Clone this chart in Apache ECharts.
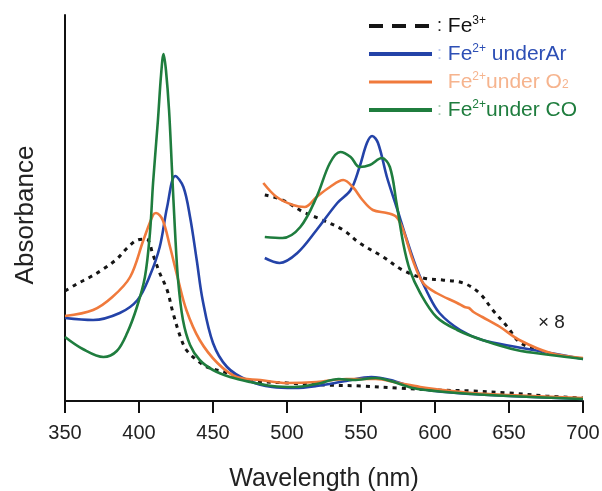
<!DOCTYPE html>
<html>
<head>
<meta charset="utf-8">
<script src="https://cdn.jsdelivr.net/npm/echarts@6/dist/echarts.min.js"></script>
<style>
  html, body { margin: 0; padding: 0; background: #fff; }
  #chart { width: 602px; height: 491px; }
</style>
</head>
<body>
<div id="chart"></div>
<script>
// tick labels of the wavelength axis
const xTicks = [350, 400, 450, 500, 550, 600, 650, 700]

// full spectra (Soret + Q band), wavelength in nm / absorbance (arb.)
const fe3Wl = [350, 358, 367, 376, 385, 392, 399, 405, 409.5, 414, 419, 423, 428, 432, 439, 446, 460, 473, 500, 525, 550, 575, 600, 625, 650, 675, 700]
const fe3Abs = [110, 117, 124, 132, 142, 153, 161, 162, 146, 128, 111, 88, 64, 51, 41, 34, 28, 21, 18, 16, 15, 13, 11, 10, 8, 5, 3]

const arWl = [350, 369, 387, 399, 407, 414, 419, 424.5, 430, 434.5, 439, 443, 450, 459.5, 473, 490, 505, 520, 540, 557, 570, 585, 600, 625, 650, 700]
const arAbs = [83, 81, 88, 101, 124, 154, 194, 225, 214, 184, 141, 101, 58, 34, 21, 14, 13, 15, 20, 24, 21, 14, 10, 7, 5, 2]

const o2Wl = [350, 369, 382, 394, 403, 409.5, 411.5, 416, 421, 426, 432, 441, 453, 466, 482, 500, 520, 540, 560, 575, 590, 600, 625, 650, 700]
const o2Abs = [85, 91, 104, 124, 161, 186, 188, 181, 154, 124, 91, 61, 38, 24, 21, 18, 19, 22, 22, 18, 14, 12, 8, 6, 3]

const coWl = [350, 362, 376, 385, 392, 398.6, 404, 407.4, 409.5, 412.8, 414.9, 416.6, 418.2, 420.3, 422.3, 424.3, 426.4, 429.7, 434.5, 441, 450, 461.5, 475, 490, 505, 520, 535, 545, 560, 570, 585, 600, 625, 650, 700]
const coAbs = [64, 52, 44, 50, 68, 94, 124, 168, 218, 281, 326, 347, 331, 291, 231, 171, 121, 81, 56, 41, 31, 24, 19, 15, 14, 17, 22, 21, 23, 20, 13, 10, 7, 5, 2]

// Q band region magnified x8
const fe3QWl = [485, 497, 511, 524, 538, 549, 565, 578, 592, 605, 619, 630, 639, 649, 657, 669, 682]
const fe3QAbs = [206, 201, 189, 181, 171, 158, 144, 131, 123, 121, 118, 108, 91, 74, 59, 51, 46]

const arQWl = [485, 495, 507, 520, 534, 543, 549, 554, 557.5, 561.5, 567.5, 574, 581, 588, 595, 603, 617, 632, 655, 678, 700]
const arQAbs = [143, 138, 148, 171, 198, 211, 234, 258, 265, 258, 224, 194, 161, 131, 108, 88, 71, 61, 54, 48, 42]

const o2QWl = [484, 493, 504, 512, 520, 529, 538, 544.5, 551, 558, 567.5, 574, 578.5, 585, 592, 601, 615, 620, 623, 626, 632, 644, 657, 678, 700]
const o2QAbs = [218, 204, 196, 194, 204, 214, 221, 214, 201, 191, 188, 184, 171, 141, 118, 108, 98, 94, 93, 89, 84, 74, 61, 48, 43]

const coQWl = [485, 497, 509, 520, 529, 536, 543, 549, 556, 564, 569.5, 574, 578.5, 583, 590, 601, 615, 632, 655, 678, 700]
const coQAbs = [164, 163, 174, 204, 238, 249, 244, 234, 236, 243, 234, 198, 158, 131, 108, 84, 71, 61, 51, 46, 42]

const names = ['Fe3+', 'Fe2+ underAr', 'Fe2+ under O2', 'Fe2+under CO']
const colors = ['#151515', '#2443a8', '#f07a3c', '#1f7d3e']

const pairs = (wl, ab) => wl.map((w, i) => [w, ab[i]])

const FONT = "'Liberation Sans', Arial, sans-serif"

const mkSeries = (name, color, wl, ab, dotted) => ({
  name: name,
  type: 'line',
  data: pairs(wl, ab),
  symbol: 'none',
  smooth: 0.35,
  color: color,
  lineStyle: {
    color: color,
    width: dotted ? 3 : 2.6,
    type: dotted ? [4, 5] : 'solid'
  }
})

const myChart = echarts.init(document.getElementById('chart'))

const option = {
  animation: false,
  backgroundColor: '#fff',
  grid: { left: 65, right: 19, top: 15, bottom: 90, containLabel: false, outerBoundsMode: 'none' },
  xAxis: {
    type: 'value',
    min: 350,
    max: 700,
    interval: 50,
    name: 'Wavelength (nm)',
    nameLocation: 'middle',
    nameGap: 66,
    nameTextStyle: { fontFamily: FONT, fontSize: 25, color: '#222' },
    axisLine: { lineStyle: { color: '#111', width: 2 } },
    axisTick: { show: true, inside: false, length: 12, lineStyle: { color: '#111', width: 2 } },
    axisLabel: {
      margin: 22,
      fontFamily: FONT,
      fontSize: 20,
      color: '#222',
      customValues: xTicks
    },
    splitLine: { show: false }
  },
  yAxis: {
    type: 'value',
    min: 0,
    max: 386,
    name: 'Absorbance',
    nameLocation: 'middle',
    nameGap: 26,
    nameTextStyle: { fontFamily: FONT, fontSize: 26, color: '#222', padding: [0, 14, 0, 0] },
    axisLine: { show: true, lineStyle: { color: '#111', width: 2 } },
    axisTick: { show: false },
    axisLabel: { show: false },
    splitLine: { show: false }
  },
  legend: {
    orient: 'vertical',
    left: 362,
    top: 10,
    itemWidth: 63,
    itemHeight: 14,
    itemGap: 6,
    data: [
      { name: names[0], lineStyle: { width: 4, type: [14, 9] }, itemStyle: { opacity: 0 } },
      { name: names[1], lineStyle: { width: 4 }, itemStyle: { opacity: 0 } },
      { name: names[2], lineStyle: { width: 3 }, itemStyle: { opacity: 0 } },
      { name: names[3], lineStyle: { width: 4 }, itemStyle: { opacity: 0 } }
    ],
    formatter: function (name) {
      if (name === names[0]) return '{k0|:}{t0| Fe}{s0|3+}'
      if (name === names[1]) return '{k1|:}{t1| Fe}{s1|2+}{t1| underAr}'
      if (name === names[2]) return '{k2| }{t2| Fe}{s2|2+}{t2|under O}{b2|2}'
      return '{k3|:}{t3| Fe}{s3|2+}{t3|under CO}'
    },
    textStyle: {
      fontFamily: FONT,
      fontSize: 21,
      lineHeight: 22,
      rich: {
        k0: { fontSize: 18, color: '#222', fontFamily: FONT },
        k1: { fontSize: 18, color: '#b9c6ee', fontFamily: FONT },
        k2: { fontSize: 18, color: '#f7c6a8', fontFamily: FONT },
        k3: { fontSize: 18, color: '#a9cdb4', fontFamily: FONT },
        t0: { fontSize: 21, color: '#111', fontFamily: FONT },
        s0: { fontSize: 12, color: '#111', fontFamily: FONT, padding: [0, 0, 10, 0] },
        t1: { fontSize: 21, color: '#2d4fb5', fontFamily: FONT },
        s1: { fontSize: 12, color: '#2d4fb5', fontFamily: FONT, padding: [0, 0, 10, 0] },
        t2: { fontSize: 21, color: '#f6b48e', fontFamily: FONT },
        s2: { fontSize: 12, color: '#f6b48e', fontFamily: FONT, padding: [0, 0, 10, 0] },
        b2: { fontSize: 12, color: '#f6b48e', fontFamily: FONT, padding: [6, 0, 0, 0] },
        t3: { fontSize: 21, color: '#1f7d3e', fontFamily: FONT },
        s3: { fontSize: 12, color: '#1f7d3e', fontFamily: FONT, padding: [0, 0, 10, 0] }
      }
    }
  },
  graphic: [
    {
      type: 'text',
      left: 538,
      top: 313,
      style: { text: '× 8', fontFamily: FONT, fontSize: 19, fill: '#222' }
    }
  ],
  series: [
    mkSeries(names[0], colors[0], fe3Wl, fe3Abs, true),
    mkSeries(names[1], colors[1], arWl, arAbs, false),
    mkSeries(names[2], colors[2], o2Wl, o2Abs, false),
    mkSeries(names[3], colors[3], coWl, coAbs, false),
    mkSeries(names[0], colors[0], fe3QWl, fe3QAbs, true),
    mkSeries(names[1], colors[1], arQWl, arQAbs, false),
    mkSeries(names[2], colors[2], o2QWl, o2QAbs, false),
    mkSeries(names[3], colors[3], coQWl, coQAbs, false)
  ]
}

myChart.setOption(option)
</script>
</body>
</html>
